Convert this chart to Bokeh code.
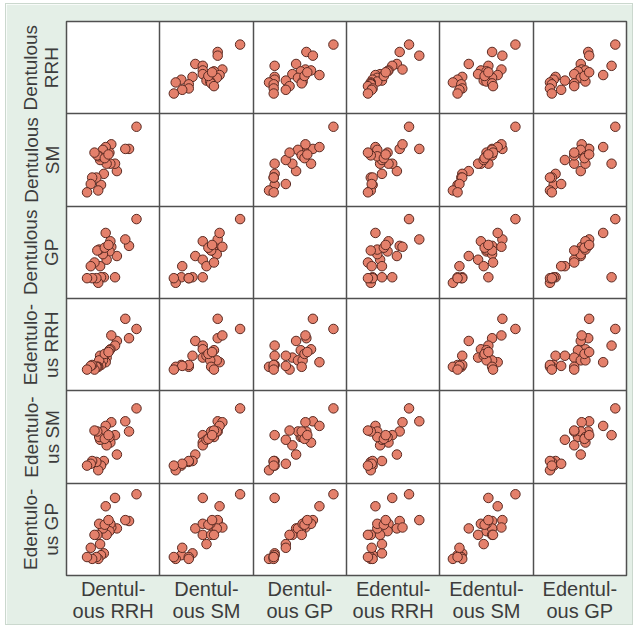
from bokeh.plotting import figure
from bokeh.models import Range1d, FixedTicker
from bokeh.embed import file_html
from bokeh.resources import INLINE

# Axis labels (rows = y variable, columns = x variable)
row_labels = ["Dentulous\nRRH", "Dentulous\nSM", "Dentulous\nGP",
              "Edentulo-\nus RRH", "Edentulo-\nus SM", "Edentulo-\nus GP"]
col_labels = ["Dentul-\nous RRH", "Dentul-\nous SM", "Dentul-\nous GP",
              "Edentul-\nous RRH", "Edentul-\nous SM", "Edentul-\nous GP"]

dentulous_rrh   = [75, 67, 63, 54, 52, 48, 47, 46, 43, 42, 40, 39, 37, 36, 35, 34, 33, 32, 30, 27.5, 26, 22, 41, 45]
dentulous_sm    = [86, 62, 62, 38, 46, 67, 46, 58, 46, 64, 35, 61, 23, 50, 54, 17, 55, 31, 58, 31, 24, 15, 52, 56]
dentulous_gp    = [86, 57, 64, 46, 23, 56, 62, 51, 42, 71, 23, 48, 23, 35, 53, 17, 52, 22, 39, 22, 35, 22, 55, 58]
edentulous_rrh  = [67, 57, 78, 54, 49, 60, 45, 44, 36, 31, 38, 33, 28, 38, 33, 26, 26, 26, 23, 28, 27, 23, 40, 42]
edentulous_sm   = [81, 56, 67, 31, 52, 66, 44, 50, 41, 62, 24, 56, 19, 47, 50, 14, 56, 23, 57, 24, 21, 19, 48, 52]
edentulous_gp   = [88, 59, 60, 51, 84, 52, 56, 48, 44, 75, 24, 51, 22, 34, 56, 18, 44, 20, 44, 18, 30, 20, 55, 60]

variables = [dentulous_rrh, dentulous_sm, dentulous_gp,
             edentulous_rrh, edentulous_sm, edentulous_gp]
n = len(variables)

FONT = "Liberation Sans"
TEXT_COLOR = "#3c3c3c"
LINE_COLOR = "#505050"

p = figure(frame_width=560, frame_height=554,
           x_range=Range1d(0, n), y_range=Range1d(0, n),
           output_backend="svg", toolbar_location=None,
           min_border_left=60, min_border_right=6,
           min_border_top=17, min_border_bottom=48,
           styles={"margin-left": "6px", "margin-top": "4px",
                   "box-shadow": "0 0 0 1px #cbd8ce"})
p.border_fill_color = "#e4efe7"
p.background_fill_color = "white"
p.outline_line_color = LINE_COLOR
p.outline_line_width = 1.5

for g in (p.xgrid, p.ygrid):
    g.ticker = FixedTicker(ticks=list(range(1, n)))
    g.grid_line_color = LINE_COLOR
    g.grid_line_width = 1.5

p.xaxis.ticker = FixedTicker(ticks=[j + 0.5 for j in range(n)])
p.xaxis.major_label_overrides = {j + 0.5: col_labels[j] for j in range(n)}
p.yaxis.ticker = FixedTicker(ticks=[n - i - 0.5 for i in range(n)])
p.yaxis.major_label_overrides = {n - i - 0.5: row_labels[i] for i in range(n)}
p.yaxis.major_label_orientation = "vertical"

for ax in (p.xaxis, p.yaxis):
    ax.axis_line_color = None
    ax.major_tick_line_color = None
    ax.minor_tick_line_color = None
    ax.major_tick_out = 0
    ax.major_tick_in = 0
    ax.minor_tick_out = 0
    ax.major_label_text_font = FONT
    ax.major_label_text_line_height = 1.0
    ax.major_label_text_color = TEXT_COLOR
p.xaxis.major_label_text_font_size = "20px"
p.yaxis.major_label_text_font_size = "19px"
p.xaxis.major_label_standoff = 2
p.yaxis.major_label_standoff = 4

for i in range(n):
    for j in range(n):
        if i == j:
            continue
        sub = p.subplot(
            x_source=Range1d(0, 100), y_source=Range1d(0, 100),
            x_target=Range1d(j, j + 1), y_target=Range1d(n - i - 1, n - i),
        )
        sub.scatter(x=variables[j], y=variables[i], size=9.5,
                    fill_color="#e4806b", line_color="#5a2a22", line_width=1)

open("out.html", "w").write(file_html(p, INLINE))
